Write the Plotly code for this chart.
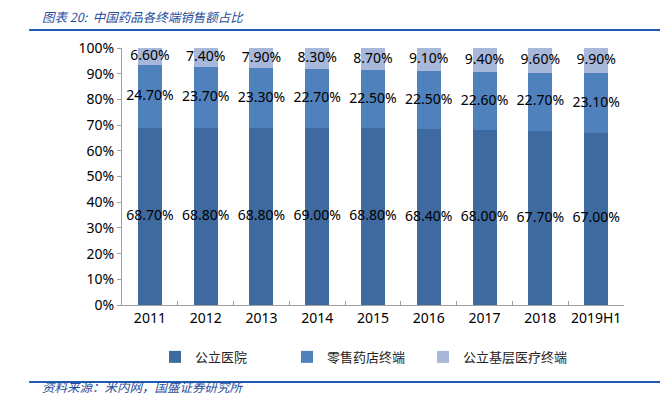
import plotly.graph_objects as go

categories = ["2011", "2012", "2013", "2014", "2015", "2016", "2017", "2018", "2019H1"]
public_hospital = [68.7, 68.8, 68.8, 69.0, 68.8, 68.4, 68.0, 67.7, 67.0]
retail_pharmacy = [24.7, 23.7, 23.3, 22.7, 22.5, 22.5, 22.6, 22.7, 23.1]
grassroots = [6.6, 7.4, 7.9, 8.3, 8.7, 9.1, 9.4, 9.6, 9.9]
series_names = ["公立医院", "零售药店终端", "公立基层医疗终端"]
colors = ["#3F6A9F", "#4F81BD", "#A8B8DA"]

font_cn = "Noto Sans CJK SC"
fig = go.Figure()
series = [public_hospital, retail_pharmacy, grassroots]
legend_ids = ["legend", "legend2", "legend3"]
base = [0.0] * len(categories)
for name, vals, col, lg in zip(series_names, series, colors, legend_ids):
    fig.add_trace(go.Bar(
        x=categories, y=vals, name=name, marker=dict(color=col, line=dict(width=0)),
        hoverinfo="skip", legend=lg,
    ))
    mids = [b + v / 2 for b, v in zip(base, vals)]
    fig.add_trace(go.Scatter(
        x=categories, y=mids, mode="text", text=[f"{v:.2f}%" for v in vals],
        textposition="middle center", textfont=dict(color="black", size=14, family="Noto Sans"),
        showlegend=False, hoverinfo="skip", cliponaxis=False,
    ))
    base = [b + v for b, v in zip(base, vals)]

legend_style = dict(orientation="h", xanchor="left", y=-0.202, yanchor="middle",
                    font=dict(family=font_cn, size=13, color="#222"), bgcolor="rgba(0,0,0,0)")

fig.update_layout(
    barmode="stack", bargap=0.57,
    width=668, height=398,
    margin=dict(l=114, r=52, t=40, b=101, autoexpand=False),
    paper_bgcolor="white", plot_bgcolor="white",
    font=dict(family="Noto Sans", size=14, color="black"),
    legend=dict(x=0.0657, **legend_style),
    legend2=dict(x=0.3287, **legend_style),
    legend3=dict(x=0.5996, **legend_style),
    yaxis=dict(range=[0, 100], dtick=10, ticksuffix="%", showgrid=False, zeroline=False,
               showline=True, linecolor="#A0A0A0", ticks="outside", ticklen=4, tickcolor="#A0A0A0",
               tickfont=dict(size=14, family="Noto Sans")),
    xaxis=dict(showline=True, linecolor="#A0A0A0", ticks="inside", tickson="boundaries",
               ticklen=4, tickcolor="#A0A0A0", tickangle=0,
               tickfont=dict(size=14, family="Noto Sans")),
)
fig.add_annotation(text="<i>图表 20:  中国药品各终端销售额占比</i>", xref="paper", yref="paper",
                   x=-0.163, y=1.1226, xanchor="left", yanchor="middle", showarrow=False,
                   font=dict(family=font_cn, size=12.5, color="#1F4E9C"))
fig.add_annotation(text="<i>资料来源：米内网，国盛证券研究所</i>", xref="paper", yref="paper",
                   x=-0.163, y=-0.362, xanchor="left", yanchor="bottom", showarrow=False,
                   font=dict(family=font_cn, size=12.5, color="#1F4E9C"))
fig.add_shape(type="line", xref="paper", yref="paper", x0=-0.185, x1=1.09, y0=1.07, y1=1.07,
              line=dict(color="#1F5BB0", width=2))
fig.add_shape(type="line", xref="paper", yref="paper", x0=-0.185, x1=1.09, y0=-0.2996, y1=-0.2996,
              line=dict(color="#1F5BB0", width=2))

fig.write_html("out.html")
